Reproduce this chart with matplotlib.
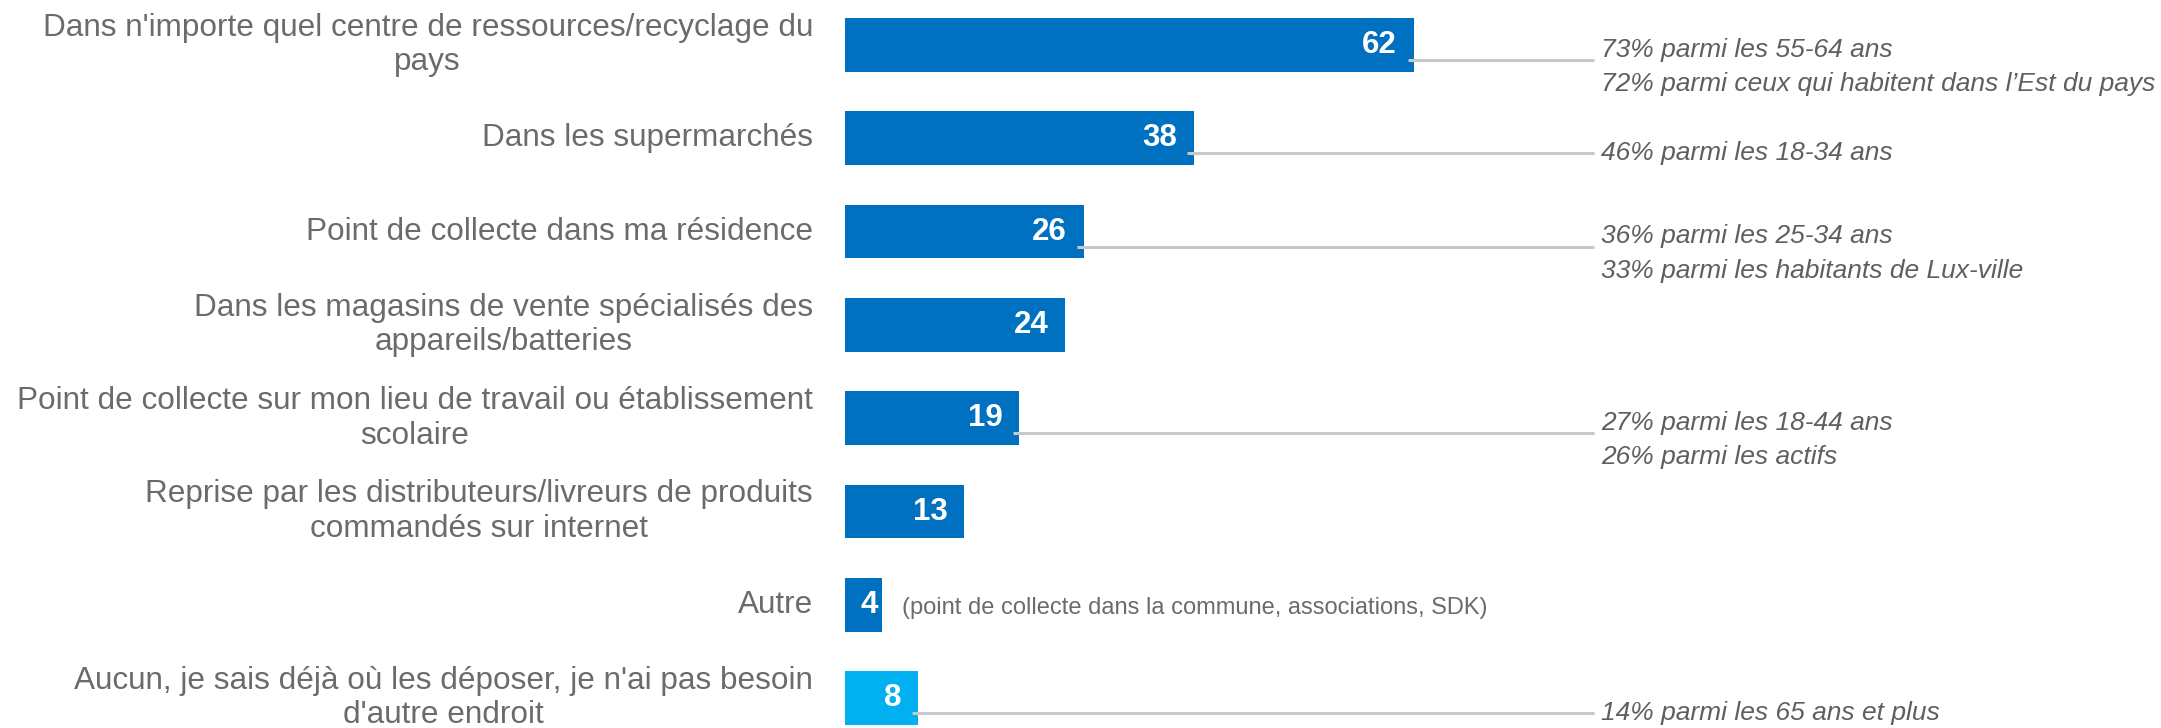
import matplotlib
matplotlib.use("Agg")
import matplotlib.pyplot as plt

plt.rcParams['font.family'] = ['Liberation Sans', 'DejaVu Sans']

# data
categories = [
    "Dans n'importe quel centre de ressources/recyclage du\npays",
    "Dans les supermarchés",
    "Point de collecte dans ma résidence",
    "Dans les magasins de vente spécialisés des\nappareils/batteries",
    "Point de collecte sur mon lieu de travail ou établissement\nscolaire",
    "Reprise par les distributeurs/livreurs de produits\ncommandés sur internet",
    "Autre",
    "Aucun, je sais déjà où les déposer, je n'ai pas besoin\nd'autre endroit",
]
values = [62, 38, 26, 24, 19, 13, 4, 8]
bar_colors = ['#0070C0'] * 7 + ['#00B0F0']
notes = [
    "73% parmi les 55-64 ans\n72% parmi ceux qui habitent dans l’Est du pays",
    "46% parmi les 18-34 ans",
    "36% parmi les 25-34 ans\n33% parmi les habitants de Lux-ville",
    None,
    "27% parmi les 18-44 ans\n26% parmi les actifs",
    None,
    None,
    "14% parmi les 65 ans et plus",
]
autre_note = "(point de collecte dans la commune, associations, SDK)"

fig = plt.figure(figsize=(21.61, 7.28), dpi=100)
fig.patch.set_facecolor('white')
ax = fig.add_axes([845 / 2161, 0, 1 - 845 / 2161, 1])

ypos = list(range(len(values)))
ax.barh(ypos, values, height=0.575, color=bar_colors)
ax.set_xlim(0, 143.4)
ax.set_ylim(7.32, -0.482)
ax.axis('off')

for i, (cat, v) in enumerate(zip(categories, values)):
    # category label
    ax.text(-3.5, i, cat, ha='right', va='center', multialignment='center',
            fontsize=22.7, color='#6b6b6b', linespacing=1.2, clip_on=False)
    # value inside the bar
    xv = v - 1.85 if v > 5 else v - 0.45
    ax.text(xv, i, str(v), ha='right', va='center', fontsize=22.5,
            fontweight='bold', color='white')
    # connector + note
    if notes[i] is not None:
        ly = i + 0.16
        ax.plot([v - 0.7, 81.6], [ly, ly], color='#c8c8c8', lw=2.2,
                solid_capstyle='butt')
        n = notes[i].count('\n') + 1
        ax.text(82.4, ly + 0.075 * (n - 1), notes[i], ha='left', va='center',
                fontsize=19, style='italic', color='#5f5f5f', linespacing=1.55)

ax.text(6.2, 6.03, autre_note, ha='left', va='center', fontsize=17,
        color='#6b6b6b')

fig.savefig('out.png', dpi=100, facecolor='white')
